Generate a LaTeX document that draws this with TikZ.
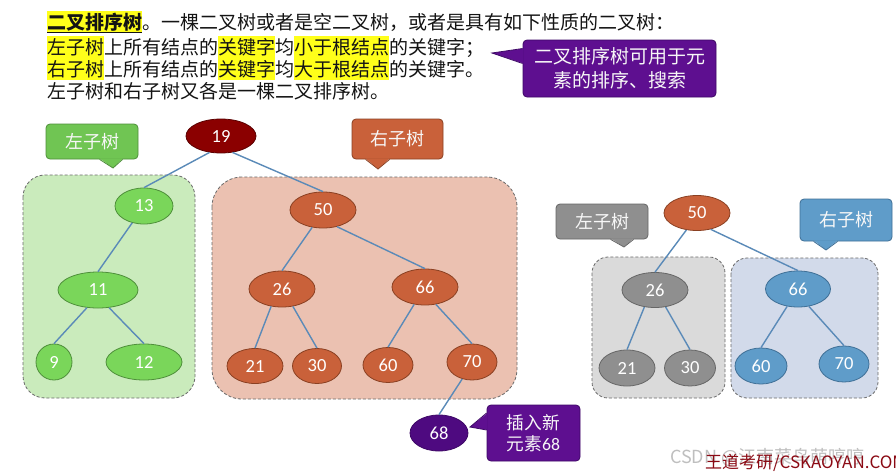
\documentclass[tikz,border=0pt]{standalone}
\usepackage{fontspec}
\setmainfont{Noto Sans CJK SC}
\newfontfamily\numf{Carlito}
\usetikzlibrary{shapes.geometric,calc}
\definecolor{hly}{HTML}{FFFF1A}
\definecolor{edgec}{HTML}{5A8AB8}
\definecolor{dashc}{HTML}{6A6A6A}
\definecolor{gnode}{HTML}{7AD65A}
\definecolor{gbord}{HTML}{4E8F3A}
\definecolor{greg}{HTML}{CAEBBC}
\definecolor{onode}{HTML}{C9613A}
\definecolor{obord}{HTML}{8A4022}
\definecolor{oreg}{HTML}{EBC1B1}
\definecolor{droot}{HTML}{8B0000}
\definecolor{drootb}{HTML}{5A0000}
\definecolor{grnode}{HTML}{8F8F8F}
\definecolor{grbord}{HTML}{666666}
\definecolor{grreg}{HTML}{DADADA}
\definecolor{bnode}{HTML}{5F9CC9}
\definecolor{bbord}{HTML}{3F6F96}
\definecolor{breg}{HTML}{D2DAEA}
\definecolor{purp}{HTML}{5E0F90}
\definecolor{purpb}{HTML}{3E0866}
\definecolor{purpn}{HTML}{4E0A80}
\definecolor{wred}{HTML}{8B0A14}
\newcommand\hlt[1]{{\setlength{\fboxsep}{0pt}\colorbox{hly}{\rule[-0.22em]{0pt}{1.19em}#1}}}
\begin{document}
\begin{tikzpicture}[x=1pt,y=-1pt,
  tn/.style={ellipse, inner sep=0pt, font=\numf\fontsize{18.5}{20}\selectfont, text=white, line width=0.8pt},
  edge/.style={draw=edgec, line width=1.4pt},
  region/.style={dash pattern=on 3pt off 2pt, draw=dashc, line width=0.8pt, rounded corners=22pt},
  callout/.style={rounded corners=4pt, inner sep=0pt, text=white!94!gray, font=\fontsize{18}{22}\selectfont, line width=0.8pt, align=center},
  toptext/.style={anchor=base west, inner sep=0pt, font=\fontsize{19}{22}\selectfont, text=black!92}
]
\useasboundingbox (0,0) rectangle (896,474);
\fill[white] (0,0) rectangle (896,474);

% ---------- top text ----------
\node[toptext] (t1) at (47,29) {\hlt{\textbf{\underline{二叉排序树}}}。一棵二叉树或者是空二叉树，或者是具有如下性质的二叉树：};
\node[toptext] (t2) at (47,54) {\hlt{左子树}上所有结点的\hlt{关键字}均\hlt{小于根结点}的关键字；};
\node[toptext] (t3) at (47,76) {\hlt{右子树}上所有结点的\hlt{关键字}均\hlt{大于根结点}的关键字。};
\node[toptext] (t4) at (47,98) {左子树和右子树又各是一棵二叉排序树。};

% ---------- purple note ----------
\node[callout, fill=purp, draw=purpb, minimum width=193pt, minimum height=57pt, font=\fontsize{19}{24}\selectfont] (cP) at (619.5,68.5) {二叉排序树可用于元\\素的排序、搜索};
\coordinate (tP) at (492,53);
\fill[purp] ($(cP.west)+(1,-20)$) -- (tP) -- ($(cP.west)+(1,-5)$) -- cycle;
\draw[purpb, line width=0.8pt] ($(cP.west)+(0,-20)$) -- (tP) -- ($(cP.west)+(0,-5)$);

% ---------- regions ----------
\path[region, fill=greg] (23,175) rectangle (195,398);
\path[region, fill=oreg, rounded corners=30pt] (212,177) rectangle (517,399);
\path[region, fill=grreg, rounded corners=16pt] (592,257) rectangle (725,398);
\path[region, fill=breg, rounded corners=16pt] (731,258) rectangle (878,398);

% ---------- callouts ----------
\node[callout, fill=gnode!92!black, draw=gbord, minimum width=92pt, minimum height=35pt] (cL) at (92,141.5) {左子树};
\coordinate (tL) at (113,168);
\fill[gnode!92!black] ($(cL.south west)+(54,-1)$) -- (tL) -- ($(cL.south west)+(77,-1)$) -- cycle;
\draw[gbord, line width=0.8pt] ($(cL.south west)+(54,0)$) -- (tL) -- ($(cL.south west)+(77,0)$);

\node[callout, fill=onode, draw=obord, minimum width=91pt, minimum height=40pt] (cR) at (397.5,139) {右子树};
\coordinate (tR) at (378,169);
\fill[onode] ($(cR.south west)+(14,-1)$) -- (tR) -- ($(cR.south west)+(38,-1)$) -- cycle;
\draw[obord, line width=0.8pt] ($(cR.south west)+(14,0)$) -- (tR) -- ($(cR.south west)+(38,0)$);

\node[callout, fill=grnode, draw=grbord, minimum width=92pt, minimum height=35pt] (cL2) at (602,221.5) {左子树};
\coordinate (tL2) at (624,247);
\fill[grnode] ($(cL2.south west)+(55,-1)$) -- (tL2) -- ($(cL2.south west)+(78,-1)$) -- cycle;
\draw[grbord, line width=0.8pt] ($(cL2.south west)+(55,0)$) -- (tL2) -- ($(cL2.south west)+(78,0)$);

\node[callout, fill=bnode, draw=bbord, minimum width=92pt, minimum height=42pt] (cR2) at (846,220) {右子树};
\coordinate (tR2) at (826,250);
\fill[bnode] ($(cR2.south west)+(14,-1)$) -- (tR2) -- ($(cR2.south west)+(38,-1)$) -- cycle;
\draw[bbord, line width=0.8pt] ($(cR2.south west)+(14,0)$) -- (tR2) -- ($(cR2.south west)+(38,0)$);

\node[callout, fill=purp, draw=purpb, minimum width=93pt, minimum height=56pt, font=\fontsize{17.7}{21}\selectfont] (cI) at (533.5,433) {插入新\\元素{\numf 68}};
\coordinate (tI) at (470,427);
\fill[purp] ($(cI.west)+(1,-20)$) -- (tI) -- ($(cI.west)+(1,-3)$) -- cycle;
\draw[purpb, line width=0.8pt] ($(cI.west)+(0,-20)$) -- (tI) -- ($(cI.west)+(0,-3)$);

% ---------- left big tree ----------
\node[tn, fill=droot, draw=drootb, minimum width=70pt, minimum height=34pt] (r19) at (221,136) {19};
\node[tn, fill=gnode, draw=gbord, minimum width=58pt, minimum height=36pt] (g13) at (144,206) {13};
\node[tn, fill=gnode, draw=gbord, minimum width=80pt, minimum height=36pt] (g11) at (98,290) {11};
\node[tn, fill=gnode, draw=gbord, minimum width=36pt, minimum height=36pt] (g9) at (54,362) {9};
\node[tn, fill=gnode, draw=gbord, minimum width=76pt, minimum height=36pt] (g12) at (144,362) {12};

\node[tn, fill=onode, draw=obord, minimum width=66pt, minimum height=36pt] (o50) at (323,210) {50};
\node[tn, fill=onode, draw=obord, minimum width=66pt, minimum height=36pt] (o26) at (282,289) {26};
\node[tn, fill=onode, draw=obord, minimum width=66pt, minimum height=36pt] (o66) at (425,287) {66};
\node[tn, fill=onode, draw=obord, minimum width=56pt, minimum height=35pt] (o21) at (255,366) {21};
\node[tn, fill=onode, draw=obord, minimum width=49pt, minimum height=35pt] (o30) at (317,366) {30};
\node[tn, fill=onode, draw=obord, minimum width=50pt, minimum height=35pt] (o60) at (388,365) {60};
\node[tn, fill=onode, draw=obord, minimum width=50pt, minimum height=36pt] (o70) at (472,362) {70};
\node[tn, fill=purpn, draw=purpb, minimum width=58pt, minimum height=36pt] (p68) at (439,433) {68};

\draw[edge] (r19.235) -- (g13.north);
\draw[edge] (r19.305) -- (o50.north);
\draw[edge] (g13.235) -- (g11.north);
\draw[edge] (g11.238) -- (g9.north);
\draw[edge] (g11.302) -- (g12.north);
\draw[edge] (o50.238) -- (o26.north);
\draw[edge] (o50.310) -- (o66.north);
\draw[edge] (o26.238) -- (o21.north);
\draw[edge] (o26.302) -- (o30.north);
\draw[edge] (o66.238) -- (o60.north);
\draw[edge] (o66.302) -- (o70.north);
\draw[edge] (o70.240) -- (p68.north);

% ---------- right small tree ----------
\node[tn, fill=onode, draw=obord, minimum width=66pt, minimum height=35pt] (s50) at (697,213) {50};
\node[tn, fill=grnode, draw=grbord, minimum width=66pt, minimum height=35pt] (s26) at (655,290) {26};
\node[tn, fill=grnode, draw=grbord, minimum width=56pt, minimum height=36pt] (s21) at (627,368) {21};
\node[tn, fill=grnode, draw=grbord, minimum width=51pt, minimum height=36pt] (s30) at (690,368) {30};
\node[tn, fill=bnode, draw=bbord, minimum width=65pt, minimum height=36pt] (s66) at (798,289) {66};
\node[tn, fill=bnode, draw=bbord, minimum width=52pt, minimum height=36pt] (s60) at (761,366) {60};
\node[tn, fill=bnode, draw=bbord, minimum width=50pt, minimum height=36pt] (s70) at (844,364) {70};

\draw[edge] (s50.238) -- (s26.north);
\draw[edge] (s50.310) -- (s66.north);
\draw[edge] (s26.238) -- (s21.north);
\draw[edge] (s26.302) -- (s30.north);
\draw[edge] (s66.238) -- (s60.north);
\draw[edge] (s66.302) -- (s70.north);

% ---------- watermarks ----------
\begin{scope}
\clip (0,0) rectangle (896,474);
\node[anchor=west, inner sep=0pt, text=black!25, font=\fontsize{18}{20}\selectfont] (wm1) at (670,457) {CSDN @江南菜鸟萌哼哼};
\node[anchor=west, inner sep=0pt, text=wred, font=\fontsize{17}{20}\selectfont] (wm2) at (705,463) {王道考研/CSKAOYAN.COM};
\end{scope}
\end{tikzpicture}
\end{document}
